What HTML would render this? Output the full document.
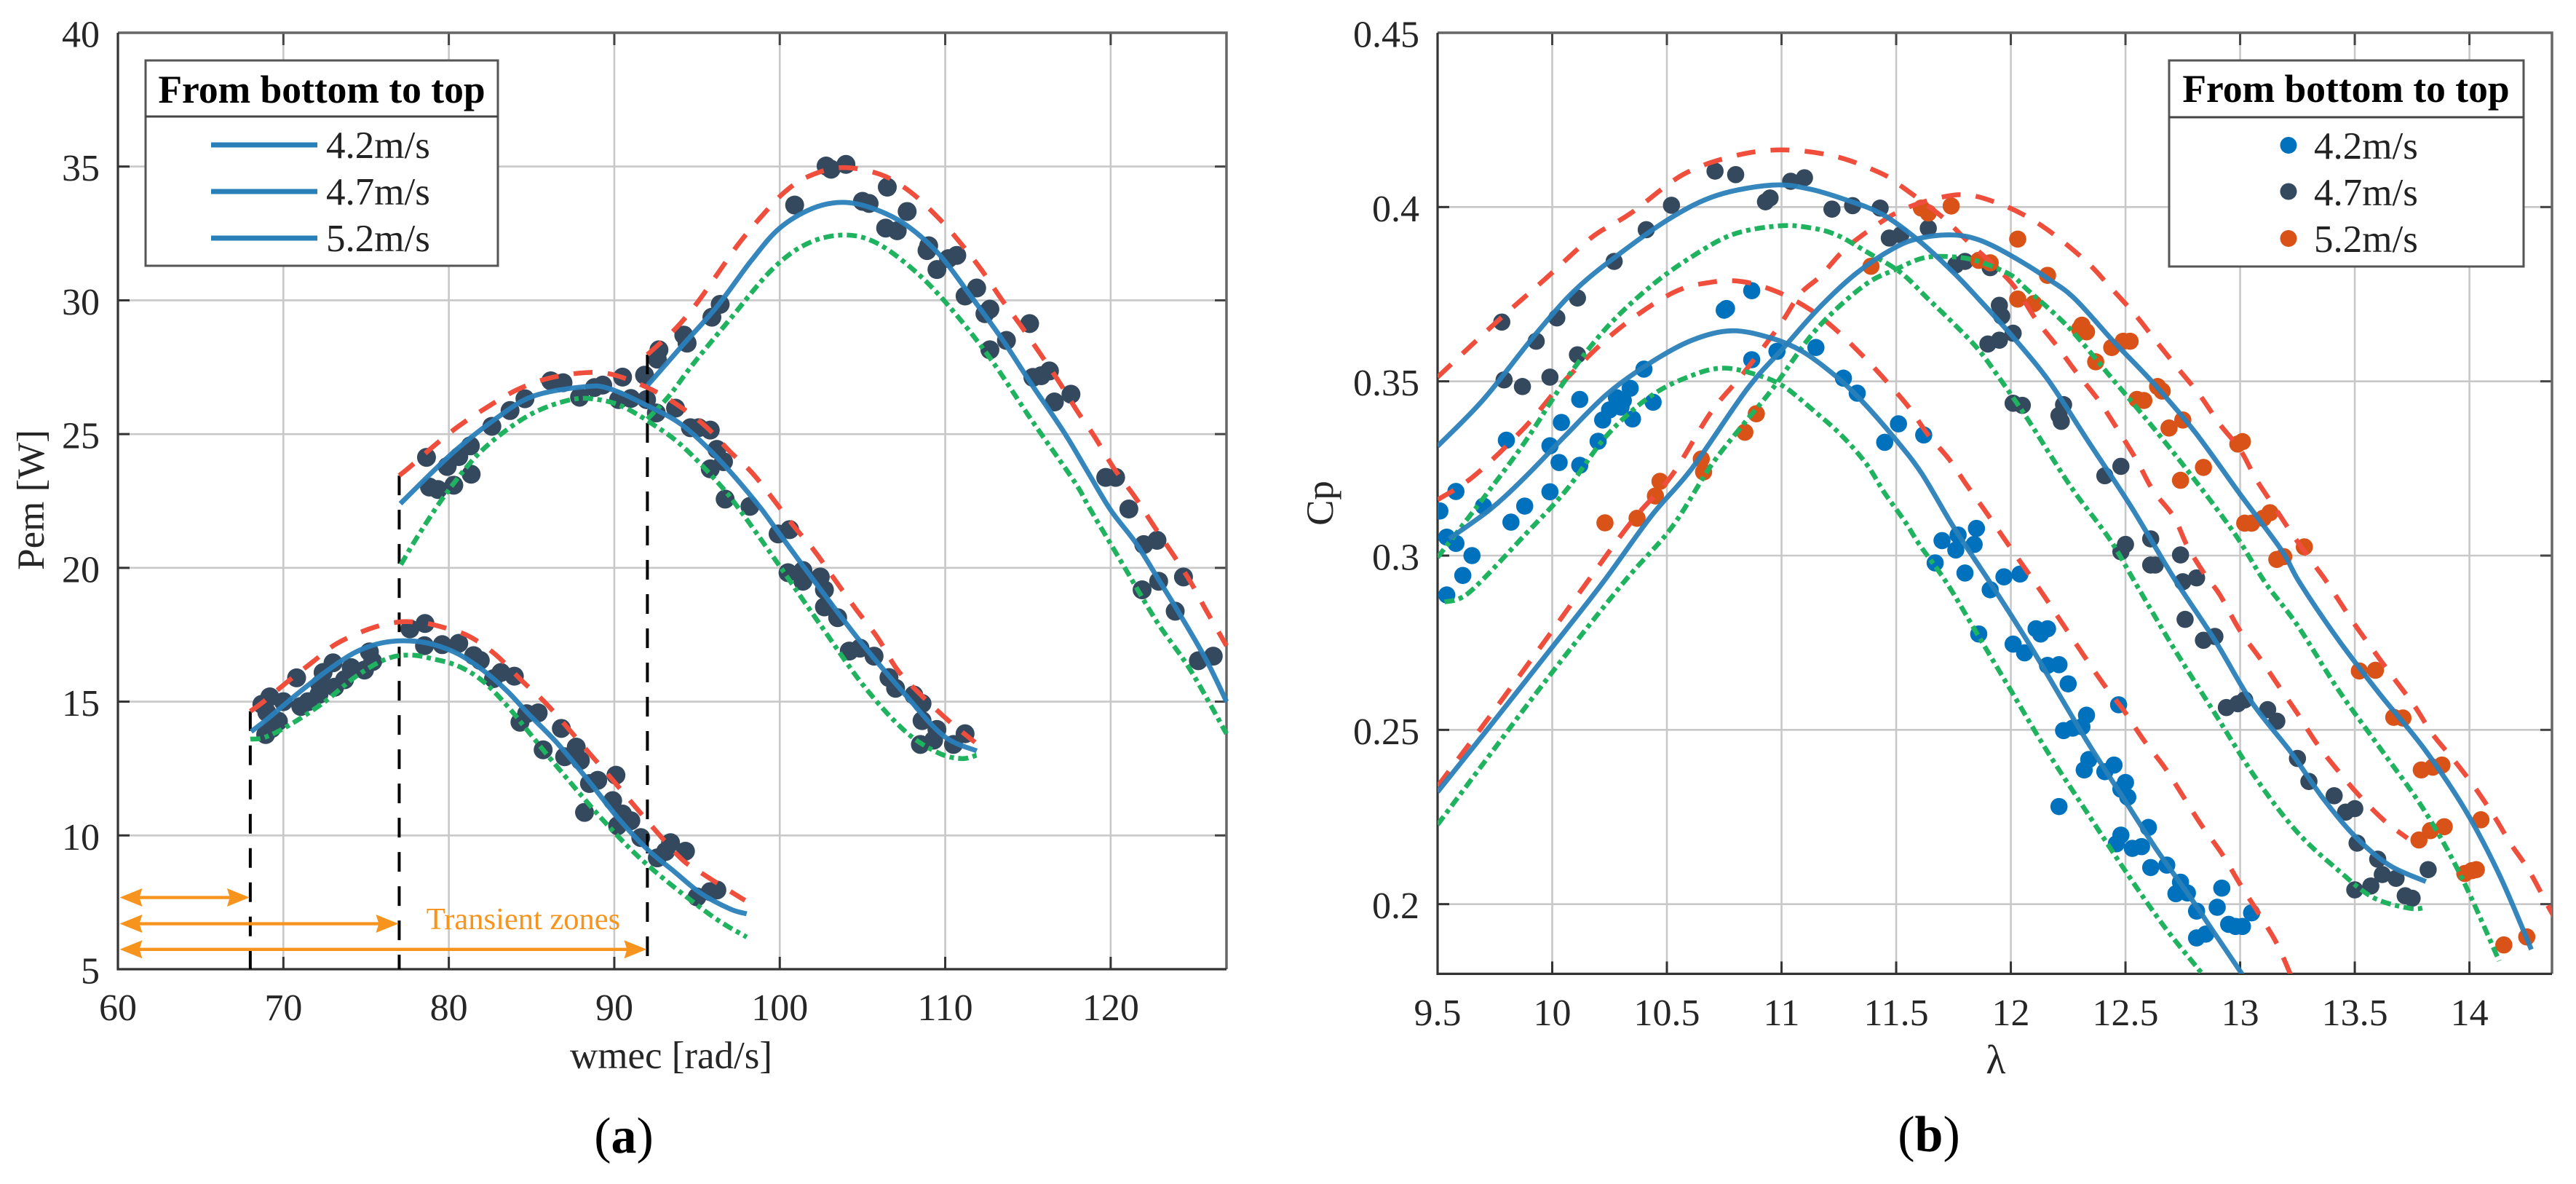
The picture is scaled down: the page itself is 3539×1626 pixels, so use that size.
<!DOCTYPE html>
<html lang="en">
<head>
<meta charset="utf-8">
<title>Pem and Cp experimental and model curves</title>
<style>
html,body{margin:0;padding:0;background:#fff;}
svg{display:block;font-family:"Liberation Serif",serif;}
</style>
</head>
<body>
<svg id="figure" xmlns="http://www.w3.org/2000/svg" width="3539" height="1626" viewBox="0 0 3539 1626">
  <defs>
    <clipPath id="clip-a"><rect x="162" y="45" width="1526" height="1286"/></clipPath>
    <clipPath id="clip-b"><rect x="1975" y="45" width="1531" height="1292"/></clipPath>
  </defs>
  <rect x="0" y="0" width="3539" height="1626" fill="#fff"/>
  <g id="panel-a"></g>
  <g id="panel-b"></g>

  <g>
    <rect x="200" y="83" width="484" height="282" fill="#fff" stroke="#555" stroke-width="3"/>
    <line x1="200" y1="160" x2="684" y2="160" stroke="#444" stroke-width="3"/>
    <text x="442" y="141" text-anchor="middle" font-size="53.5" font-weight="bold" fill="#000">From bottom to top</text>
    <line x1="290" y1="199" x2="436" y2="199" stroke="#2980b9" stroke-width="7"/>
    <line x1="290" y1="263" x2="436" y2="263" stroke="#2980b9" stroke-width="7"/>
    <line x1="290" y1="327" x2="436" y2="327" stroke="#2980b9" stroke-width="7"/>
    <text x="448" y="217" font-size="53" fill="#222">4.2m/s</text>
    <text x="448" y="281" font-size="53" fill="#222">4.7m/s</text>
    <text x="448" y="345" font-size="53" fill="#222">5.2m/s</text>
  </g>

  <g>
    <rect x="2980" y="83" width="487" height="283" fill="#fff" stroke="#555" stroke-width="3"/>
    <line x1="2980" y1="161" x2="3467" y2="161" stroke="#444" stroke-width="3"/>
    <text x="3223" y="140" text-anchor="middle" font-size="53.5" font-weight="bold" fill="#000">From bottom to top</text>
    <circle cx="3144" cy="199.5" r="11.5" fill="#0072bd"/>
    <circle cx="3144" cy="263" r="11.5" fill="#34495e"/>
    <circle cx="3144" cy="327.5" r="11.5" fill="#d95319"/>
    <text x="3179" y="218" font-size="53" fill="#222">4.2m/s</text>
    <text x="3179" y="282" font-size="53" fill="#222">4.7m/s</text>
    <text x="3179" y="346" font-size="53" fill="#222">5.2m/s</text>
  </g>

  <text transform="translate(60 686.5) rotate(-90)" text-anchor="middle" font-size="53" fill="#262626">Pem [W]</text>
  <text x="922" y="1467" text-anchor="middle" font-size="53" fill="#262626">wmec [rad/s]</text>
  <text transform="translate(1831 691) rotate(-90)" text-anchor="middle" font-size="53" fill="#262626">Cp</text>
  <text x="2742" y="1474" text-anchor="middle" font-size="56" fill="#262626">λ</text>
  <text x="857" y="1583" text-anchor="middle" font-size="70" fill="#000">(<tspan font-weight="bold">a</tspan>)</text>
  <text x="2650" y="1581" text-anchor="middle" font-size="70" fill="#000">(<tspan font-weight="bold">b</tspan>)</text>
</svg>

<script>
// ---------- Panel (a) data ----------
const pemXTicks = [60,70,80,90,100,110,120];
const pemYTicks = [5,10,15,20,25,30,35,40];
const pemXRange = [60,127];
const pemYRange = [5,40];

const pemLowModelX = [68.05,69.15,70.9,72.7,74.4,76,77.65,79.1,80.6,82.05,83.5,84.8,86.55,88.5,90.2,92,93.6,95.2,97,98];
const pemLowModelY = [13.88,14.41,15.32,16.18,16.86,17.2,17.27,17.13,16.77,16.18,15.41,14.55,13.45,12,10.67,9.48,8.66,7.85,7.25,7.07];
const pemLowUpperX = [68,68.7,70.3,71.8,73.25,75.2,76.9,78.4,79.7,81.2,82.8,84.5,86,88.5,89.9,92.4,94.1,95.5,97.9];
const pemLowUpperY = [14.64,14.95,15.77,16.5,17.18,17.72,17.97,17.95,17.77,17.45,16.77,15.73,14.85,13.07,12.07,10.25,9.1,8.5,7.57];
const pemLowLowerX = [68,68.85,70.3,72.4,74.4,76.2,77.65,79.1,80.6,82.05,83.5,85,86.5,89.35,92,95.8,98];
const pemLowLowerY = [13.6,13.66,14.1,14.95,15.95,16.59,16.74,16.59,16.32,15.77,14.86,13.73,12.6,10.55,8.9,7.03,6.2];

const pemMidModelX = [77.07,80.15,82.8,85.1,88.2,89.7,92,94.1,96.3,98.6,99.8,102,104.85,107.6,109.9,111.9];
const pemMidModelY = [22.4,24.25,25.56,26.42,26.77,26.7,26.06,25.34,24.07,22.43,21.43,19.58,17.26,15.25,13.72,13.16];
const pemMidUpperX = [77,77.7,79.1,80.6,82.3,84.1,86,88.1,89.8,92,93.8,95.5,97,98.5,100.8,102.1,103.3,104.6,105.9,107.1,108.4,110.2,111.8];
const pemMidUpperY = [23.45,23.8,24.56,25.3,26,26.65,27.08,27.29,27.24,26.74,26.1,25.3,24.34,23.43,21.6,20.63,19.58,18.46,17.4,16.2,15.33,14.29,13.48];
const pemMidLowerX = [77.1,78.1,79.7,81.5,83.1,85.1,87.2,88.65,90.4,92.3,94.1,96.3,97.7,100,102.6,105.1,107.6,109.6,111,111.9];
const pemMidLowerY = [20.12,21.16,22.66,24.07,24.97,25.79,26.26,26.32,26.06,25.38,24.56,23.16,22.07,20.06,17.74,15.57,13.88,13.08,12.87,13];

const pemTopModelX = [92.02,94.1,96.25,98.3,100,102,103.8,105.6,107.6,109.6,111.4,113.4,115.2,117.2,118.6,120,121.5,122.8,124.3,125.8,127];
const pemTopModelY = [26.83,28.3,29.8,31.5,32.7,33.44,33.66,33.44,32.83,31.74,30.28,28.58,26.88,25.05,23.6,22.16,20.95,19.66,18.14,16.53,15];
const pemTopUpperX = [92,93.7,95,96.25,97.5,98.8,100.3,101.8,103.8,106.1,107.9,109.6,110.9,112.2,113.4,114.7,116.7,118,119,120.2,121.5,122.5,123.8,124.8,125.8,127];
const pemTopUpperY = [27.97,28.94,29.9,31,32.1,33.07,34.05,34.65,34.96,34.7,34.05,33.07,32.16,31.13,30.04,28.94,27.12,25.84,24.93,23.72,22.62,21.67,20.47,19.5,18.38,17.09];
const pemTopLowerX = [92,93.3,94.8,97,99.5,101.6,103.8,105.8,108.1,110.2,112.7,115.2,117.8,118.8,120.8,122.8,124.8,127];
const pemTopLowerY = [25.56,26.42,27.65,29.3,31.13,32.1,32.44,32.16,31.13,29.8,27.85,25.54,23.23,22.15,20.06,17.98,16.2,13.8];

const pemDotsX = [69.18,68.7,69,70,69.7,68.93,69.3,70.8,71.05,71.5,72.4,73,72.2,72.15,73.1,73.7,74.1,74.9,75.2,75.4,77.65,78.56,78.53,79.6,80.6,81.5,81.9,83.15,83.96,82.7,84.3,84.7,85.4,85.7,86.8,87,87.7,87.95,88.5,89,90.1,88.2,89.9,90.5,90.2,91,91.6,92.6,93.4,93.1,94.3,95,95.8,96.2,
78.65,78.83,79.34,80.3,81.35,79.9,80.6,81.3,82.6,83.7,84.6,86.16,86.9,87.9,88.8,89.3,90.5,90.26,91,91.83,91.95,92.54,93.7,94.6,95.1,95.8,96.2,96.6,95.8,96.7,98.2,99.9,100.6,100.5,101.4,101.4,102.45,102.7,102.7,103.5,104.2,104.85,105.7,106.6,107,108.1,108.6,108.6,109.5,108.5,109.3,110.5,111.2,
92.7,92.6,94.2,94.4,95.9,96.4,100.9,102.8,103.1,104,105,105.4,106.5,107.7,106.4,107.1,109,108.9,109.5,110.2,110.7,111.9,111.2,112.7,112.4,113.7,112.7,115.1,115.3,115.8,116.3,116.6,117.6,119.7,120.3,121.1,122,122.8,121.9,122.9,124.4,123.9,125.3,126.2];
const pemDotsY = [15.18,14.9,14.6,15,14.27,13.77,14,15.89,14.82,15,16.09,16.45,15.64,15.27,15.54,15.82,16.27,16.18,16.86,16.5,17.72,17.92,17.09,17.13,17.18,16.72,16.54,16.09,15.95,15.86,14.23,14.55,14.58,13.2,14,12.94,13.3,12.8,11.94,12.06,12.25,10.86,11.3,10.8,10.36,10.55,9.92,9.16,9.73,9.4,9.41,7.7,7.9,7.96,
24.13,23.02,22.93,23.09,23.5,23.79,24.16,24.56,25.29,25.88,26.32,26.99,26.92,26.38,26.74,26.83,27.13,26.29,26.33,27.2,26.29,25.79,25.97,25.24,25.24,25.15,24.43,23.97,23.7,22.57,22.3,21.27,21.43,19.82,19.9,19.5,19.66,19.18,18.54,18.14,16.89,17,16.7,15.9,15.5,15.25,14.93,14.29,13.96,13.4,13.56,13.4,13.8,
28.15,27.8,28.7,28.4,29.37,29.85,33.56,35.02,34.9,35.08,33.7,33.62,34.23,33.32,32.7,32.6,32.04,31.86,31.15,31.56,31.68,30.46,30.16,29.67,29.5,28.5,28.15,29.13,27.12,27.18,27.36,26.2,26.49,23.38,23.38,22.2,20.87,21.03,19.18,19.5,19.66,18.38,16.53,16.7];

const transientEnds = [68,77,92];
const transientLevels = [7.68,6.70,5.74];
const transientTops = [14.64,23.45,27.97];

// ---------- Panel (b) data ----------
const cpXTicks = [9.5,10,10.5,11,11.5,12,12.5,13,13.5,14];
const cpYTicks = [0.2,0.25,0.3,0.35,0.4,0.45];
const cpXRange = [9.5,14.36];
const cpYRange = [0.18,0.45];

const cp42ModelX = [9.55,9.73,9.88,10.06,10.24,10.43,10.61,10.78,10.95,11.09,11.24,11.35,11.49,11.61,11.75,11.91,12.07,12.21,12.34,12.49,12.63,12.78,12.89,13.01];
const cp42ModelY = [.3048,.3133,.3224,.3346,.3464,.3554,.3618,.3645,.3625,.3586,.3513,.3444,.3339,.3237,.3082,.2922,.2757,.2602,.2459,.2305,.2162,.2022,.1915,.1798];
const cp42UpperX = [9.5,9.66,9.88,10.06,10.28,10.52,10.69,10.83,10.98,11.12,11.23,11.35,11.44,11.55,11.64,11.73,11.81,11.9,11.98,12.14,12.24,12.4,12.49,12.58,12.67,12.75,12.83,12.92,13,13.09,13.16,13.22];
const cp42UpperY = [.316,.3229,.3368,.3506,.3645,.3752,.3784,.3786,.3757,.3708,.3652,.3576,.3513,.343,.3346,.3277,.32,.3117,.304,.2889,.279,.2635,.2558,.247,.2393,.2311,.2228,.2145,.2057,.1964,.1887,.1798];
const cp42LowerX = [9.53,9.6,9.68,9.88,10.06,10.24,10.43,10.61,10.75,10.9,11.01,11.14,11.26,11.37,11.45,11.54,11.6,11.72,11.85,12,12.16,12.34,12.51,12.67,12.83];
const cp42LowerY = [.2867,.2878,.292,.3059,.3187,.3346,.3458,.3517,.3538,.3517,.3485,.3416,.3346,.3263,.3179,.3096,.3033,.2922,.2779,.2613,.2437,.2255,.2085,.1935,.1804];

const cp47ModelX = [9.5,9.7,9.92,10.1,10.3,10.52,10.72,10.96,11.12,11.28,11.44,11.6,11.75,11.86,12,12.16,12.34,12.52,12.71,12.89,13.05,13.22,13.36,13.5,13.65,13.81];
const cp47ModelY = [.3314,.3448,.3629,.3762,.3869,.397,.4034,.4063,.4052,.4021,.3979,.3903,.3812,.3736,.3634,.3506,.3325,.3145,.2937,.2757,.258,.2437,.2305,.2195,.2112,.2065];
const cp47UpperX = [9.5,9.75,9.97,10.17,10.34,10.57,10.79,11,11.23,11.43,11.53,11.7,11.81,12,12.11,12.2,12.29,12.38,12.46,12.55,12.62,12.71,12.77,12.85,12.91,13,13.09,13.17,13.25,13.33,13.42,13.52,13.63,13.73];
const cp47UpperY = [.3512,.3666,.3794,.3912,.3981,.4093,.4146,.4164,.4146,.4098,.4056,.3972,.3903,.3784,.3677,.3602,.3522,.3448,.3368,.3272,.3187,.3112,.3027,.2942,.2889,.2784,.2702,.2624,.2547,.2465,.2388,.2311,.2239,.2189];
const cp47LowerX = [9.5,9.7,9.88,10.06,10.24,10.43,10.61,10.79,10.99,11.12,11.24,11.38,11.52,11.64,11.75,11.86,11.96,12.07,12.17,12.28,12.43,12.54,12.71,12.89,13.07,13.25,13.43,13.58,13.74,13.81];
const cp47LowerY = [.2995,.3165,.3325,.3506,.3656,.3773,.3858,.3922,.3946,.3941,.392,.3868,.3812,.3736,.3666,.359,.35,.3395,.3291,.318,.3048,.2925,.2735,.2547,.236,.2206,.2096,.2019,.1988,.1991];

const cp52ModelX = [9.5,9.7,9.99,10.22,10.43,10.61,10.85,11.01,11.17,11.33,11.49,11.6,11.74,11.86,12,12.17,12.28,12.45,12.62,12.8,13,13.18,13.26,13.43,13.61,13.8,13.98,14.13,14.27];
const cp52ModelY = [.2322,.2487,.2729,.2922,.3112,.3251,.3478,.3597,.3715,.3812,.3882,.391,.392,.3906,.3861,.3791,.3736,.3613,.3496,.3357,.3176,.3016,.2922,.2757,.2602,.2448,.2272,.2085,.187];
const cp52UpperX = [9.5,9.7,9.97,10.15,10.35,10.52,10.69,10.83,10.99,11.08,11.17,11.27,11.39,11.52,11.67,11.81,11.96,12.09,12.21,12.34,12.43,12.54,12.63,12.72,12.82,12.91,13,13.07,13.15,13.23,13.33,13.38,13.49,13.58,13.66,13.76,13.84,13.93,14.02,14.11,14.18,14.26,14.35,14.4];
const cp52UpperY = [.2338,.2514,.2757,.2922,.3101,.3229,.3409,.352,.3659,.375,.3802,.3875,.3937,.399,.4024,.4035,.4007,.3965,.391,.3837,.3773,.3693,.3618,.3544,.3464,.3378,.3304,.3219,.3139,.3059,.2968,.2922,.2812,.2729,.2657,.2569,.2487,.2415,.2338,.225,.2173,.2096,.1986,.193];
const cp52LowerX = [9.5,9.7,9.99,10.31,10.52,10.69,10.83,10.96,11.12,11.24,11.38,11.49,11.62,11.75,11.86,12,12.07,12.25,12.43,12.62,12.8,12.98,13.11,13.25,13.43,13.61,13.8,13.96,14.13];
const cp52LowerY = [.2228,.2404,.2657,.2922,.308,.3256,.3374,.3478,.3624,.3708,.3784,.3819,.3854,.3857,.3844,.3805,.3764,.3656,.3517,.3368,.3219,.3059,.2922,.28,.2613,.2448,.2272,.2085,.1837];

const cpDots42X = [9.51,9.58,9.54,9.58,9.65,9.61,9.54,9.7,9.82,9.88,9.99,9.8,9.99,10.03,10.12,10.04,10.12,10.2,10.22,10.25,10.28,10.31,10.3,10.34,10.35,10.4,10.44,10.75,10.76,10.87,10.87,10.98,11.15,11.27,11.33,11.51,11.45,11.62,11.85,11.77,11.7,11.76,11.84,11.67,11.8,11.97,12.04,11.91,11.86,12.01,12.06,12.11,12.13,12.16,12.16,12.21,12.25,12.47,12.33,12.23,12.27,12.31,12.34,12.32,12.41,12.45,12.5,12.48,12.51,12.21,12.48,12.46,12.53,12.57,12.6,12.61,12.68,12.74,12.72,12.77,12.81,12.9,12.92,12.81,12.85,12.95,12.98,13.01,13.05];
const cpDots42Y = [.3128,.3184,.3053,.3035,.3,.2943,.2887,.3142,.3096,.3142,.3183,.3331,.3315,.3267,.3259,.3382,.3448,.3328,.3389,.3418,.3453,.3445,.3426,.348,.3392,.3535,.344,.3704,.3709,.376,.3562,.3586,.3597,.3509,.3466,.3378,.3325,.3346,.3078,.3059,.3043,.3016,.3032,.2979,.295,.2939,.2947,.2902,.2775,.2746,.2721,.279,.2775,.279,.2685,.2687,.2632,.2572,.2542,.2498,.2505,.2509,.2415,.2385,.238,.2399,.2349,.233,.2307,.228,.2198,.2173,.216,.2165,.222,.2105,.2112,.2063,.203,.2032,.198,.1991,.2046,.1903,.1914,.1942,.1936,.1936,.1975];
const cpDots47X = [9.78,9.93,10.02,10.11,9.79,9.87,9.99,10.11,10.27,10.41,10.52,10.71,10.8,10.93,10.95,11.04,11.1,11.22,11.31,11.43,11.47,11.52,11.64,11.76,11.8,11.91,11.95,11.96,11.9,11.95,12.01,12.01,12.05,12.23,12.21,12.22,12.41,12.48,12.5,12.48,12.61,12.61,12.63,12.74,12.81,12.75,12.76,12.84,12.89,12.94,12.99,13.02,13.12,13.16,13.25,13.3,13.41,13.46,13.5,13.51,13.6,13.62,13.57,13.68,13.5,13.72,13.75,13.82];
const cpDots47Y = [.367,.3615,.3682,.3739,.3504,.3485,.3512,.3576,.3844,.3935,.4005,.4103,.4093,.4015,.4026,.4074,.4084,.3994,.4004,.3997,.3911,.392,.3939,.3834,.3844,.3826,.3718,.3687,.3607,.3618,.3638,.3437,.3431,.3433,.3402,.3385,.3229,.3256,.3032,.3011,.3048,.2973,.2973,.3002,.2936,.2925,.2817,.2757,.2768,.2564,.2575,.2586,.2558,.2525,.2418,.2352,.2311,.2264,.2274,.2175,.2129,.2085,.2052,.2074,.2041,.2024,.2017,.2099];
const cpDots52X = [10.23,10.37,10.45,10.47,10.65,10.66,10.84,10.89,11.39,11.61,11.64,11.74,12.03,11.86,11.91,12.16,12.03,12.1,12.31,12.33,12.3,12.44,12.49,12.52,12.37,12.64,12.66,12.55,12.58,12.75,12.69,13.01,12.99,12.84,12.74,13.02,13.05,13.1,13.13,13.28,13.16,13.19,13.52,13.59,13.67,13.71,13.79,13.84,13.88,14.05,13.89,13.83,13.78,13.98,14.01,14.03,14.25,14.15];
const cpDots52Y = [.3094,.3107,.3171,.3213,.3277,.324,.3354,.3407,.383,.3997,.3983,.4003,.3908,.3847,.384,.3804,.3736,.3723,.3661,.3642,.365,.3597,.3615,.3615,.3556,.3485,.3472,.3448,.3445,.3389,.3366,.3327,.332,.3253,.3216,.3093,.3093,.3107,.3123,.3025,.2989,.2997,.2669,.2671,.2536,.2534,.2385,.2393,.2399,.2242,.2222,.2211,.2184,.2088,.2096,.2099,.1906,.1883];

// ---------- Helpers ----------
const NS = 'http://www.w3.org/2000/svg';
function mk(tag, attrs, parent){
  const el = document.createElementNS(NS, tag);
  for (const k in attrs) el.setAttribute(k, attrs[k]);
  parent.appendChild(el);
  return el;
}
function linScale(d0, d1, r0, r1){
  return function(v){ return r0 + (v - d0) * (r1 - r0) / (d1 - d0); };
}
function smoothPath(xs, ys, sx, sy){
  const p = xs.map(function(x, i){ return [sx(x), sy(ys[i])]; });
  let d = 'M' + p[0][0].toFixed(1) + ' ' + p[0][1].toFixed(1);
  for (let i = 0; i < p.length - 1; i++){
    const a = p[Math.max(i - 1, 0)], b = p[i], c = p[i + 1], e = p[Math.min(i + 2, p.length - 1)];
    const c1x = b[0] + (c[0] - a[0]) / 6, c1y = b[1] + (c[1] - a[1]) / 6;
    const c2x = c[0] - (e[0] - b[0]) / 6, c2y = c[1] - (e[1] - b[1]) / 6;
    d += 'C' + c1x.toFixed(1) + ' ' + c1y.toFixed(1) + ' ' + c2x.toFixed(1) + ' ' + c2y.toFixed(1) + ' ' + c[0].toFixed(1) + ' ' + c[1].toFixed(1);
  }
  return d;
}

const STYLE_MODEL = {stroke:'#2980b9','stroke-width':6.8,fill:'none','stroke-opacity':0.95};
const STYLE_UPPER = {stroke:'#f04e3c','stroke-width':6.6,fill:'none','stroke-dasharray':'26 21'};
const STYLE_LOWER = {stroke:'#1fb25f','stroke-width':6.6,fill:'none','stroke-dasharray':'14 6 6 6'};

function drawFrame(parent, sx, sy, xTicks, yTicks, xRange, yRange, xLabelY, yLabelX, yLabelDy, fmtX, fmtY){
  const L = sx(xRange[0]), R = sx(xRange[1]), T = sy(yRange[1]), B = sy(yRange[0]);
  xTicks.forEach(function(t){
    const g = mk('line', {x1:sx(t), x2:sx(t), y1:T, y2:B, stroke:'#c8c8c8', 'stroke-width':2.6}, parent);
    
    
    const t1 = mk('line', {x1:sx(t), x2:sx(t), y1:B, y2:B - 17, stroke:'#333', 'stroke-width':3}, parent);
    
    
    const t2 = mk('line', {x1:sx(t), x2:sx(t), y1:T, y2:T + 17, stroke:'#444', 'stroke-width':3}, parent);
    
    
    const lab = mk('text', {x:sx(t), y:xLabelY, 'text-anchor':'middle', 'font-size':52, fill:'#262626'}, parent);
    lab.textContent = fmtX(t);
    
    
  });
  yTicks.forEach(function(t){
    const g = mk('line', {x1:L, x2:R, y1:sy(t), y2:sy(t), stroke:'#c8c8c8', 'stroke-width':2.6}, parent);
    
    
    const t1 = mk('line', {x1:L, x2:L + 16, y1:sy(t), y2:sy(t), stroke:'#333', 'stroke-width':3}, parent);
    
    
    const t2 = mk('line', {x1:R, x2:R - 16, y1:sy(t), y2:sy(t), stroke:'#444', 'stroke-width':3}, parent);
    
    
    const lab = mk('text', {x:yLabelX, y:sy(t) + yLabelDy, 'text-anchor':'end', 'font-size':52, fill:'#262626'}, parent);
    lab.textContent = fmtY(t);
    
    
  });
  const top = mk('path', {d:'M' + L + ' ' + T + 'H' + R + 'V' + B, fill:'none', stroke:'#666', 'stroke-width':3.5}, parent);
  
  
  const bot = mk('path', {d:'M' + L + ' ' + T + 'V' + B + 'H' + R, fill:'none', stroke:'#333', 'stroke-width':3.2}, parent);
  
  
}
function drawDots(parent, xs, ys, sx, sy, r, color, name){
  xs.forEach(function(x, i){
    const c = mk('circle', {cx:sx(x), cy:sy(ys[i]), r:r, fill:color}, parent);
    
    
  });
}
function drawCurve(parent, xs, ys, sx, sy, style, name){
  const attrs = Object.assign({d:smoothPath(xs, ys, sx, sy)}, style);
  const c = mk('path', attrs, parent);
  
  
}

// ---------- Panel (a) ----------
const panelA = document.getElementById('panel-a');
const ax = linScale(pemXRange[0], pemXRange[1], 162, 1685);
const ay = linScale(pemYRange[0], pemYRange[1], 1331, 45);
drawFrame(panelA, ax, ay, pemXTicks, pemYTicks, pemXRange, pemYRange, 1401, 137, 19.5, String, String);

const plotA = mk('g', {'clip-path':'url(#clip-a)'}, panelA);


drawDots(plotA, pemDotsX, pemDotsY, ax, ay, 13, '#34495e', 'measured-power-dot');

transientEnds.forEach(function(v, i){
  const line = mk('line', {x1:ax(v), x2:ax(v), y1:ay(transientTops[i]), y2:1331, stroke:'#000', 'stroke-width':4, 'stroke-dasharray':'27 20'}, plotA);
  
  
});

drawCurve(plotA, pemLowUpperX, pemLowUpperY, ax, ay, STYLE_UPPER, 'upper-bound-4-2');
drawCurve(plotA, pemMidUpperX, pemMidUpperY, ax, ay, STYLE_UPPER, 'upper-bound-4-7');
drawCurve(plotA, pemTopUpperX, pemTopUpperY, ax, ay, STYLE_UPPER, 'upper-bound-5-2');
drawCurve(plotA, pemLowLowerX, pemLowLowerY, ax, ay, STYLE_LOWER, 'lower-bound-4-2');
drawCurve(plotA, pemMidLowerX, pemMidLowerY, ax, ay, STYLE_LOWER, 'lower-bound-4-7');
drawCurve(plotA, pemTopLowerX, pemTopLowerY, ax, ay, STYLE_LOWER, 'lower-bound-5-2');
drawCurve(plotA, pemLowModelX, pemLowModelY, ax, ay, STYLE_MODEL, 'model-curve-4-2');
drawCurve(plotA, pemMidModelX, pemMidModelY, ax, ay, STYLE_MODEL, 'model-curve-4-7');
drawCurve(plotA, pemTopModelX, pemTopModelY, ax, ay, STYLE_MODEL, 'model-curve-5-2');

transientEnds.forEach(function(v, i){
  const y = ay(transientLevels[i]), x0 = 164.5, x1 = ax(v) - 1, h = 31, w = 12.5, n = 27;
  const shaft = mk('line', {x1:x0 + 10, x2:x1 - 10, y1:y, y2:y, stroke:'#f7941d', 'stroke-width':4.4}, panelA);
  
  
  const pts = [x0,y, x0+h,y-w, x0+n,y, x0+h,y+w].join(' ');
  const headL = mk('polygon', {points:pts, fill:'#f7941d'}, panelA);
  
  
  const ptsR = [x1,y, x1-h,y-w, x1-n,y, x1-h,y+w].join(' ');
  const headR = mk('polygon', {points:ptsR, fill:'#f7941d'}, panelA);
  
  
});
const tz = mk('text', {x:719, y:1276, 'text-anchor':'middle', 'font-size':42.5, fill:'#f7941d'}, panelA);
tz.textContent = 'Transient zones';



// ---------- Panel (b) ----------
const panelB = document.getElementById('panel-b');
const bx = linScale(cpXRange[0], cpXRange[1], 1975, 3506);
const by = linScale(cpYRange[0], cpYRange[1], 1337.4, 45);
drawFrame(panelB, bx, by, cpXTicks, cpYTicks, cpXRange, cpYRange, 1408, 1950, 19.5, String, String);

const plotB = mk('g', {'clip-path':'url(#clip-b)'}, panelB);


drawDots(plotB, cpDots42X, cpDots42Y, bx, by, 11.8, '#0072bd', 'measured-cp-dot-4-2');
drawDots(plotB, cpDots47X, cpDots47Y, bx, by, 11.8, '#34495e', 'measured-cp-dot-4-7');
drawDots(plotB, cpDots52X, cpDots52Y, bx, by, 11.8, '#d95319', 'measured-cp-dot-5-2');

drawCurve(plotB, cp42UpperX, cp42UpperY, bx, by, STYLE_UPPER, 'cp-upper-bound-4-2');
drawCurve(plotB, cp47UpperX, cp47UpperY, bx, by, STYLE_UPPER, 'cp-upper-bound-4-7');
drawCurve(plotB, cp52UpperX, cp52UpperY, bx, by, STYLE_UPPER, 'cp-upper-bound-5-2');
drawCurve(plotB, cp42LowerX, cp42LowerY, bx, by, STYLE_LOWER, 'cp-lower-bound-4-2');
drawCurve(plotB, cp47LowerX, cp47LowerY, bx, by, STYLE_LOWER, 'cp-lower-bound-4-7');
drawCurve(plotB, cp52LowerX, cp52LowerY, bx, by, STYLE_LOWER, 'cp-lower-bound-5-2');
drawCurve(plotB, cp42ModelX, cp42ModelY, bx, by, STYLE_MODEL, 'cp-model-curve-4-2');
drawCurve(plotB, cp47ModelX, cp47ModelY, bx, by, STYLE_MODEL, 'cp-model-curve-4-7');
drawCurve(plotB, cp52ModelX, cp52ModelY, bx, by, STYLE_MODEL, 'cp-model-curve-5-2');
</script>
</body>
</html>
